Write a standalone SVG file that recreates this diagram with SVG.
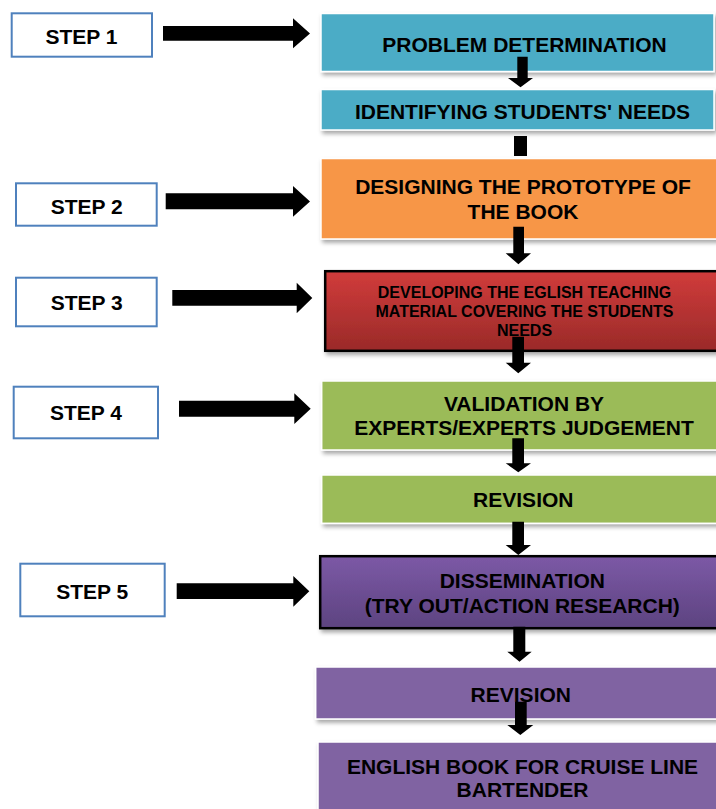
<svg xmlns="http://www.w3.org/2000/svg" width="716" height="809" viewBox="0 0 716 809">
  <defs>
    <filter id="shadow" x="-10%" y="-20%" width="130%" height="160%">
      <feDropShadow dx="2" dy="3" stdDeviation="2" flood-color="#000000" flood-opacity="0.35"/>
    </filter>
    <linearGradient id="redGrad" x1="0" y1="0" x2="0" y2="1">
      <stop offset="0" stop-color="#D13C3B"/>
      <stop offset="1" stop-color="#9A2A29"/>
    </linearGradient>
    <linearGradient id="purpleGrad" x1="0" y1="0" x2="0" y2="1">
      <stop offset="0" stop-color="#7C59A6"/>
      <stop offset="1" stop-color="#5D4380"/>
    </linearGradient>
    <style>
      .step rect { fill: #FFFFFF; stroke: #4F81BD; stroke-width: 2; }
      .lbl { font-family: "Liberation Sans", Arial, sans-serif; font-weight: bold; fill: #000000; text-anchor: middle; }
      .big { font-size: 21px; }
      .small { font-size: 16px; }
      .box { stroke: #FFFFFF; stroke-width: 1.5; filter: url(#shadow); }
      .boxdark { stroke: #000000; stroke-width: 2.5; filter: url(#shadow); }
      .teal { fill: #4BACC6; }
      .orange { fill: #F79646; }
      .green { fill: #9BBB59; }
      .purple { fill: #8064A2; }
      .conn { fill: #000000; }
    </style>
  </defs>
  <rect width="716" height="809" fill="#FFFFFF"/>

  <!-- Step boxes -->
  <g id="step1" class="step">
    <rect x="11.7" y="13.3" width="140.3" height="43.4"/>
    <text class="lbl big" x="81.5" y="44">STEP 1</text>
  </g>
  <g id="step2" class="step">
    <rect x="16" y="183.3" width="140.7" height="42.4"/>
    <text class="lbl big" x="86.7" y="214">STEP 2</text>
  </g>
  <g id="step3" class="step">
    <rect x="16" y="277.7" width="140.7" height="48.6"/>
    <text class="lbl big" x="86.7" y="310">STEP 3</text>
  </g>
  <g id="step4" class="step">
    <rect x="13.7" y="386.7" width="144.3" height="51.6"/>
    <text class="lbl big" x="86" y="420">STEP 4</text>
  </g>
  <g id="step5" class="step">
    <rect x="20.3" y="563.7" width="144.4" height="52.6"/>
    <text class="lbl big" x="92.2" y="599">STEP 5</text>
  </g>

  <!-- Process boxes -->
  <g id="problem">
    <rect class="box teal" x="321" y="13.5" width="393" height="58"/>
    <text class="lbl big" x="524.5" y="51.7">PROBLEM DETERMINATION</text>
  </g>
  <g id="identifying">
    <rect class="box teal" x="321" y="89.5" width="393" height="40.5"/>
    <text class="lbl big" x="522.5" y="119">IDENTIFYING STUDENTS' NEEDS</text>
  </g>
  <g id="designing">
    <rect class="box orange" x="321" y="158.5" width="400" height="80.5"/>
    <text class="lbl big" x="523" y="194.3">DESIGNING THE PROTOTYPE OF</text>
    <text class="lbl big" x="523" y="219.3">THE BOOK</text>
  </g>
  <g id="developing">
    <rect class="boxdark" fill="url(#redGrad)" x="325.2" y="271.2" width="400" height="79.6"/>
    <text class="lbl small" x="524.5" y="298.3">DEVELOPING THE EGLISH TEACHING</text>
    <text class="lbl small" x="524.5" y="316.7">MATERIAL COVERING THE STUDENTS</text>
    <text class="lbl small" x="524.5" y="335.7">NEEDS</text>
  </g>
  <g id="validation">
    <rect class="box green" x="321.7" y="381" width="400" height="69"/>
    <text class="lbl big" x="524" y="410.7">VALIDATION BY</text>
    <text class="lbl big" x="524" y="435">EXPERTS/EXPERTS JUDGEMENT</text>
  </g>
  <g id="revision1">
    <rect class="box green" x="321.7" y="475" width="400" height="48.3"/>
    <text class="lbl big" x="523.3" y="506.7">REVISION</text>
  </g>
  <g id="dissemination">
    <rect class="boxdark" fill="url(#purpleGrad)" x="320.2" y="556.2" width="400" height="72"/>
    <text class="lbl big" x="522.3" y="588.3">DISSEMINATION</text>
    <text class="lbl big" x="522.3" y="613">(TRY OUT/ACTION RESEARCH)</text>
  </g>
  <g id="revision2">
    <rect class="box purple" x="315.7" y="667" width="405" height="52"/>
    <text class="lbl big" x="520.8" y="702.3">REVISION</text>
  </g>
  <g id="book">
    <rect class="box purple" x="318" y="742" width="405" height="75"/>
    <text class="lbl big" x="522.5" y="774">ENGLISH BOOK FOR CRUISE LINE</text>
    <text class="lbl big" x="522.5" y="796.7">BARTENDER</text>
  </g>

  <!-- Connectors -->
  <g id="connectors" class="conn">
    <!-- horizontal step arrows -->
    <polygon points="163,26 293,26 293,18.3 310,33.5 293,48.3 293,40.7 163,40.7"/>
    <polygon points="165.7,193.3 293,193.3 293,186 310,201.5 293,216.7 293,209.3 165.7,209.3"/>
    <polygon points="172.3,290 296.7,290 296.7,282.7 312.3,298 296.7,313.3 296.7,305.7 172.3,305.7"/>
    <polygon points="179,400.7 294.3,400.7 294.3,393.3 310.7,408.7 294.3,424 294.3,416.7 179,416.7"/>
    <polygon points="176.7,583.3 293.3,583.3 293.3,576 309.3,591.3 293.3,606.7 293.3,599 176.7,599"/>
    <!-- vertical arrows -->
    <polygon points="517.3,56.7 527.7,56.7 527.7,78 533,78 520.5,87.3 508,78 517.3,78"/>
    <rect x="514" y="136" width="13" height="20"/>
    <polygon points="513.3,226.7 524,226.7 524,253.3 531,253.3 518.4,264.3 505.7,253.3 513.3,253.3"/>
    <polygon points="512.3,336.7 524,336.7 524,362.7 531,362.7 518.3,373.3 505.7,362.7 512.3,362.7"/>
    <polygon points="512.3,438.3 524,438.3 524,463.3 531,463.3 518.3,472.3 505.7,463.3 512.3,463.3"/>
    <polygon points="512.3,521.7 524,521.7 524,545 531,545 518.3,555 505.7,545 512.3,545"/>
    <polygon points="513.3,626.7 525.3,626.7 525.3,651.7 531.7,651.7 519.5,661.7 507.3,651.7 513.3,651.7"/>
    <polygon points="515,701.7 526.7,701.7 526.7,725 533.3,725 520.3,735 507.3,725 515,725"/>
  </g>
</svg>
